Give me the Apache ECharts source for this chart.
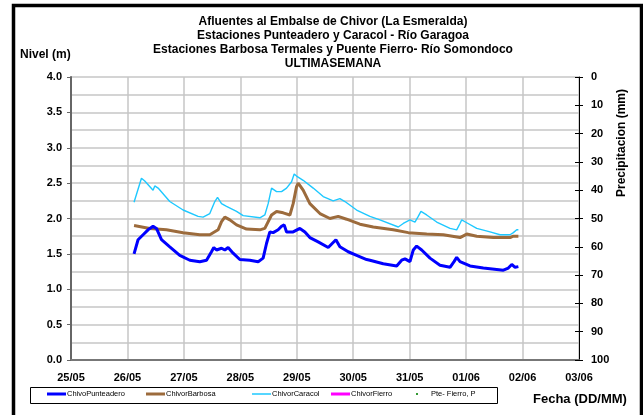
<!DOCTYPE html>
<html>
<head>
<meta charset="utf-8">
<title>Afluentes al Embalse de Chivor</title>
<script src="https://cdn.jsdelivr.net/npm/echarts@6/dist/echarts.min.js"></script>
<style>
  html, body { margin: 0; padding: 0; background: #ffffff; }
  #chart { width: 643px; height: 415px; }
</style>
</head>
<body>
<div id="chart"></div>
<script>
// Day labels of the date axis (one tick per day, starting 25/05 00:00)
const dayLabels = ['25/05', '26/05', '27/05', '28/05', '29/05', '30/05', '31/05', '01/06', '02/06', '03/06'];

// Level readings: time in days since 25/05 00:00, level in metres
const tPunteadero = [1.117, 1.188, 1.277, 1.365, 1.454, 1.514, 1.603, 1.750, 1.927, 2.105, 2.282, 2.401, 2.489, 2.530, 2.578, 2.667, 2.725, 2.784, 2.872, 2.991, 3.168, 3.316, 3.404, 3.465, 3.523, 3.582, 3.670, 3.730, 3.777, 3.819, 3.936, 4.055, 4.144, 4.232, 4.379, 4.557, 4.693, 4.764, 4.911, 5.060, 5.238, 5.296, 5.532, 5.770, 5.858, 5.917, 6.005, 6.064, 6.124, 6.213, 6.360, 6.537, 6.715, 6.786, 6.833, 6.892, 7.069, 7.305, 7.660, 7.748, 7.809, 7.867, 7.926];
const vPunteadero = [1.50, 1.70, 1.77, 1.84, 1.89, 1.86, 1.70, 1.60, 1.48, 1.41, 1.39, 1.41, 1.53, 1.59, 1.555, 1.58, 1.555, 1.59, 1.51, 1.42, 1.41, 1.39, 1.44, 1.65, 1.81, 1.80, 1.84, 1.89, 1.91, 1.81, 1.81, 1.86, 1.81, 1.73, 1.67, 1.59, 1.70, 1.60, 1.53, 1.48, 1.42, 1.41, 1.36, 1.33, 1.41, 1.43, 1.39, 1.555, 1.61, 1.555, 1.44, 1.34, 1.31, 1.39, 1.45, 1.39, 1.33, 1.30, 1.27, 1.30, 1.35, 1.31, 1.32];

const tBarbosa = [1.117, 1.395, 1.691, 1.986, 2.282, 2.459, 2.606, 2.667, 2.725, 2.814, 2.933, 3.110, 3.346, 3.434, 3.553, 3.642, 3.759, 3.878, 3.936, 3.996, 4.025, 4.113, 4.232, 4.410, 4.587, 4.734, 4.883, 5.119, 5.355, 5.709, 5.975, 6.301, 6.596, 6.892, 7.011, 7.188, 7.482, 7.778, 7.837, 7.926];
const vBarbosa = [1.90, 1.86, 1.84, 1.80, 1.77, 1.77, 1.84, 1.955, 2.02, 1.98, 1.91, 1.85, 1.84, 1.86, 2.05, 2.10, 2.08, 2.05, 2.21, 2.45, 2.50, 2.40, 2.21, 2.07, 2.00, 2.03, 1.99, 1.92, 1.88, 1.84, 1.80, 1.78, 1.77, 1.73, 1.78, 1.75, 1.73, 1.73, 1.75, 1.75];

const tCaracol = [1.117, 1.248, 1.307, 1.454, 1.484, 1.543, 1.750, 1.986, 2.252, 2.340, 2.459, 2.548, 2.596, 2.667, 2.755, 2.933, 3.050, 3.346, 3.434, 3.493, 3.553, 3.582, 3.642, 3.730, 3.819, 3.908, 3.954, 3.996, 4.113, 4.291, 4.468, 4.645, 4.764, 4.853, 5.060, 5.296, 5.473, 5.798, 5.887, 6.005, 6.094, 6.152, 6.200, 6.301, 6.479, 6.715, 6.833, 6.892, 6.922, 7.011, 7.188, 7.424, 7.601, 7.778, 7.837, 7.897, 7.926];
const vCaracol = [2.23, 2.57, 2.53, 2.40, 2.46, 2.43, 2.24, 2.12, 2.03, 2.02, 2.07, 2.24, 2.30, 2.21, 2.17, 2.10, 2.04, 2.01, 2.05, 2.21, 2.43, 2.45, 2.38, 2.38, 2.43, 2.52, 2.63, 2.60, 2.54, 2.43, 2.31, 2.25, 2.28, 2.24, 2.12, 2.03, 1.98, 1.88, 1.93, 1.98, 1.95, 2.03, 2.10, 2.05, 1.95, 1.86, 1.84, 1.93, 1.98, 1.94, 1.86, 1.81, 1.77, 1.77, 1.80, 1.84, 1.84];

// Stations without readings this week
const tFierro = [];
const vFierro = [];
const tPrecipFierro = [];
const vPrecipFierro = [];

const seriesNames = ['ChivoPunteadero', 'ChivorBarbosa', 'ChivorCaracol', 'ChivorFierro', 'Pte- Fierro, P'];

const pairs = (t, v) => t.map((d, i) => [d, v[i]]);

const FONT = '"Liberation Sans", Arial, sans-serif';
const GRID_COLOR = '#c6c6c6';

const chart = echarts.init(document.getElementById('chart'), null, { renderer: 'canvas' });

// legend entries: left edge, sample width, sample thickness
const legendLeft = [47, 146, 252, 331, 416];
const legendW = [19, 19, 19, 19, 2];
const legendH = [3, 3, 1.5, 3, 2];

chart.setOption({
  animation: false,
  backgroundColor: '#ffffff',
  title: {
    text: 'Afluentes al Embalse de Chivor (La Esmeralda)\nEstaciones Punteadero y Caracol - Río Garagoa\nEstaciones Barbosa Termales y Puente Fierro- Río Somondoco\nULTIMASEMANA',
    left: 328,
    top: 10,
    textAlign: 'center',
    textStyle: { fontFamily: FONT, fontSize: 12, fontWeight: 'bold', color: '#000', lineHeight: 14 }
  },
  legend: seriesNames.map((name, i) => ({
    data: [{ name: name, icon: 'rect' }],
    left: legendLeft[i],
    top: 390,
    padding: 0,
    itemWidth: legendW[i],
    itemHeight: legendH[i],
    itemGap: 0,
    selectedMode: false,
    textStyle: { fontFamily: FONT, fontSize: 7.5, color: '#000', padding: [0, 0, 0, i === 4 ? 8 : -4] }
  })),
  grid: { left: 71, right: 64, top: 77, bottom: 55, containLabel: false },
  xAxis: {
    type: 'value',
    min: 0,
    max: 9,
    interval: 1,
    axisLine: { show: true, lineStyle: { color: '#777', width: 2 } },
    axisTick: { show: false },
    axisLabel: {
      margin: 12,
      formatter: v => dayLabels[Math.round(v)],
      fontFamily: FONT, fontSize: 11, fontWeight: 'bold', color: '#000'
    },
    splitLine: { show: true, lineStyle: { color: GRID_COLOR, width: 1.5 } }
  },
  yAxis: [
    {
      type: 'value',
      min: 0,
      max: 4,
      interval: 0.5,
      position: 'left',
      axisLine: { show: true, lineStyle: { color: '#666', width: 2 } },
      axisTick: { show: true, length: 4, lineStyle: { color: '#666', width: 1 } },
      minorTick: { show: false, splitNumber: 2 },
      minorSplitLine: { show: true, lineStyle: { color: GRID_COLOR, width: 1.5 } },
      splitLine: { show: true, lineStyle: { color: GRID_COLOR, width: 1.5 } },
      axisLabel: {
        margin: 9,
        formatter: v => v.toFixed(1),
        fontFamily: FONT, fontSize: 11, fontWeight: 'bold', color: '#000'
      }
    },
    {
      type: 'value',
      min: 0,
      max: 100,
      interval: 10,
      inverse: true,
      position: 'right',
      axisLine: { show: true, lineStyle: { color: '#000', width: 1 } },
      axisTick: { show: true, length: 4, lineStyle: { color: '#000', width: 1 } },
      splitLine: { show: false },
      axisLabel: { margin: 12, fontFamily: FONT, fontSize: 11, fontWeight: 'bold', color: '#000' }
    },
    {
      // inner half of the crossing ticks on the precipitation axis
      type: 'value',
      min: 0,
      max: 100,
      interval: 10,
      inverse: true,
      position: 'right',
      axisLine: { show: false },
      axisTick: { show: true, inside: true, length: 4, lineStyle: { color: '#000', width: 1 } },
      splitLine: { show: false },
      axisLabel: { show: false }
    }
  ],
  graphic: [
    {
      type: 'rect',
      z: -10,
      silent: true,
      shape: { x: 13.5, y: 5.5, width: 628, height: 430 },
      style: { fill: 'none', stroke: '#000', lineWidth: 3.5 }
    },
    {
      type: 'rect',
      z: -5,
      silent: true,
      shape: { x: 30.5, y: 387.5, width: 467, height: 16 },
      style: { fill: '#fff', stroke: '#000', lineWidth: 1 }
    },
    {
      type: 'text',
      silent: true,
      left: 20,
      top: 49,
      style: { text: 'Nivel (m)', fontFamily: FONT, fontSize: 12, fontWeight: 'bold', fill: '#000' }
    },
    {
      type: 'text',
      silent: true,
      x: 622,
      y: 143,
      rotation: Math.PI / 2,
      style: {
        text: 'Precipitacion (mm)', fontFamily: FONT, fontSize: 12, fontWeight: 'bold', fill: '#000',
        align: 'center', verticalAlign: 'middle'
      }
    },
    {
      type: 'text',
      silent: true,
      x: 533,
      y: 399,
      style: {
        text: 'Fecha (DD/MM)', fontFamily: FONT, fontSize: 13, fontWeight: 'bold', fill: '#000',
        verticalAlign: 'middle'
      }
    }
  ],
  series: [
    {
      name: seriesNames[0], type: 'line', yAxisIndex: 0, symbol: 'none',
      data: pairs(tPunteadero, vPunteadero),
      itemStyle: { color: '#0000ff' },
      lineStyle: { color: '#0000ff', width: 3 }, z: 5
    },
    {
      name: seriesNames[1], type: 'line', yAxisIndex: 0, symbol: 'none',
      data: pairs(tBarbosa, vBarbosa),
      itemStyle: { color: '#9c6b3c' },
      lineStyle: { color: '#9c6b3c', width: 3 }, z: 4
    },
    {
      name: seriesNames[2], type: 'line', yAxisIndex: 0, symbol: 'none',
      data: pairs(tCaracol, vCaracol),
      itemStyle: { color: '#1ec8ff' },
      lineStyle: { color: '#1ec8ff', width: 1.4 }, z: 3
    },
    {
      name: seriesNames[3], type: 'line', yAxisIndex: 0, symbol: 'none',
      data: pairs(tFierro, vFierro),
      itemStyle: { color: '#ff00ff' },
      lineStyle: { color: '#ff00ff', width: 3 }
    },
    {
      name: seriesNames[4], type: 'scatter', yAxisIndex: 1, symbol: 'rect', symbolSize: 3,
      data: pairs(tPrecipFierro, vPrecipFierro),
      itemStyle: { color: '#008000' }
    }
  ]
});
</script>
</body>
</html>
